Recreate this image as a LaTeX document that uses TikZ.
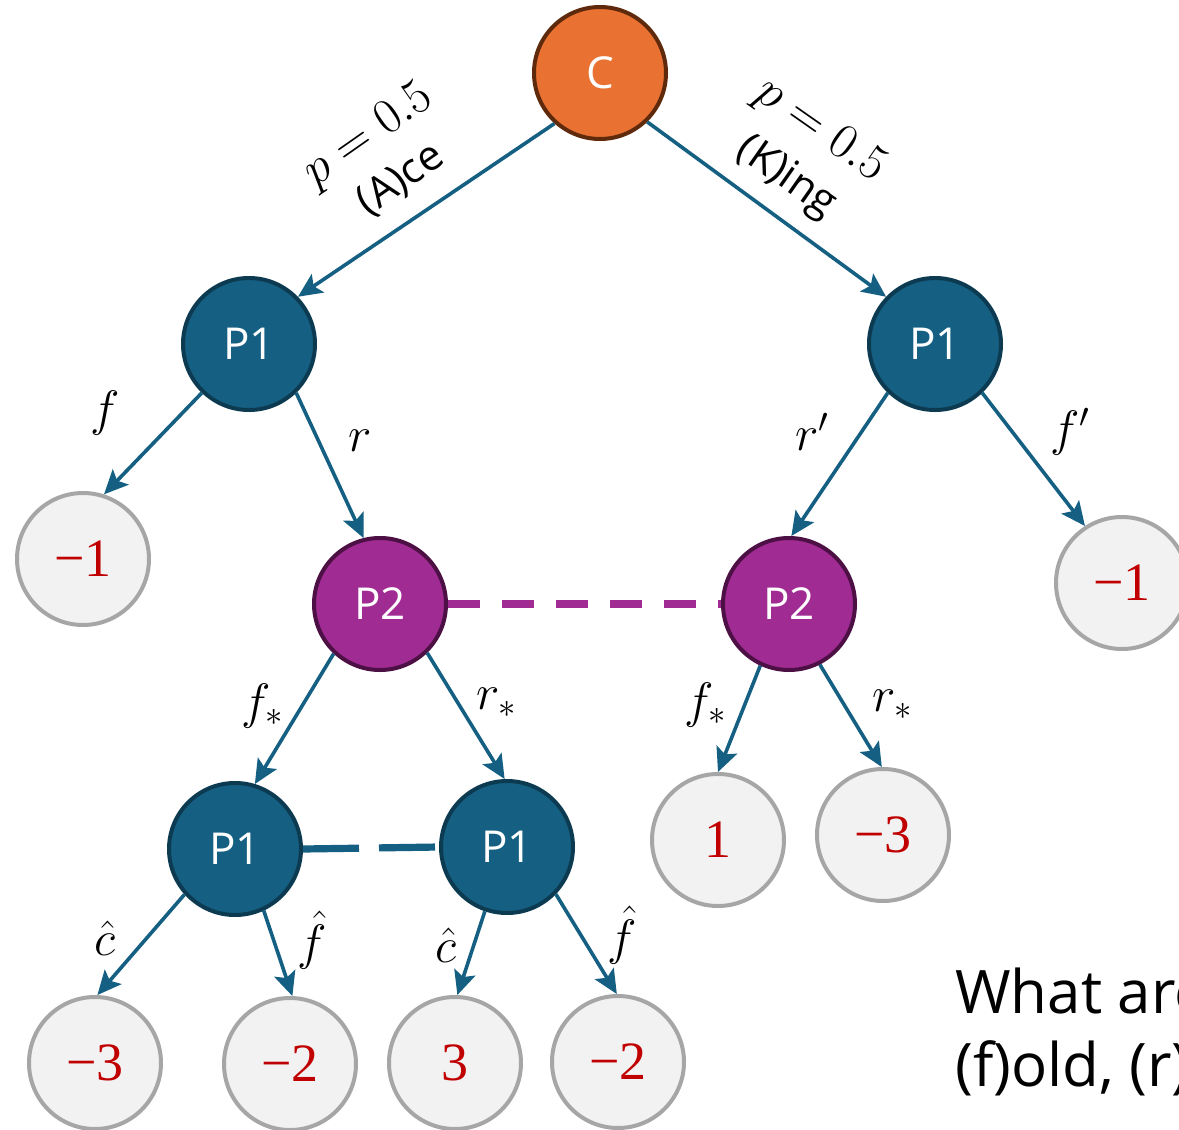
\documentclass[tikz,border=0pt]{standalone}
\usepackage[no-math]{fontspec}
\newfontfamily\labelfont{Open Sans}
\newfontfamily\numfont{Liberation Serif}
\usetikzlibrary{arrows.meta}
\definecolor{chanceFill}{HTML}{E97132}
\definecolor{chanceLine}{HTML}{5E2A0B}
\definecolor{pOneFill}{HTML}{156082}
\definecolor{pOneLine}{HTML}{0C3A50}
\definecolor{pTwoFill}{HTML}{A02B93}
\definecolor{pTwoLine}{HTML}{4C1045}
\definecolor{leafFill}{HTML}{F2F2F2}
\definecolor{leafLine}{HTML}{A6A6A6}
\definecolor{payoff}{HTML}{C00000}
\definecolor{edgeBlue}{HTML}{156082}
\begin{document}
\begin{tikzpicture}[x=0.5pt,y=-0.5pt,
  state/.style={circle, minimum size=66pt, inner sep=0pt, line width=2pt,
    font=\labelfont\fontsize{22}{26}\selectfont, text=white},
  chance/.style={state, fill=chanceFill, draw=chanceLine},
  pone/.style={state, fill=pOneFill, draw=pOneLine},
  ptwo/.style={state, fill=pTwoFill, draw=pTwoLine},
  leaf/.style={state, fill=leafFill, draw=leafLine, text=payoff,
    font=\numfont\fontsize{27}{30}\selectfont},
  move/.style={draw=edgeBlue, line width=1.8pt,
    -{Stealth[length=12pt,width=11pt,inset=2.5pt]}},
  act/.style={font=\fontsize{25}{28}\selectfont, inner sep=0pt},
  prob/.style={font=\fontsize{25}{28}\selectfont, inner sep=0pt},
  card/.style={font=\labelfont\fontsize{21}{24}\selectfont, inner sep=0pt},
  infoset/.style={line width=3.6pt, dash pattern=on 16pt off 11pt},
  question/.style={font=\labelfont\fontsize{30}{34}\selectfont, anchor=base west, inner sep=0pt}
]
\useasboundingbox (0,0) rectangle (1179,1130);
\clip (0,0) rectangle (1179,1130);

% decision nodes
\node[chance] (C)  at (600,73)  {C};
\node[pone]   (A1) at (249,344) {P1};
\node[pone]   (K1) at (935,344) {P1};
\node[ptwo]   (A2) at (380,604) {P2};
\node[ptwo]   (K2) at (789,604) {P2};
\node[pone]   (B1) at (235,849) {P1};
\node[pone]   (B2) at (507,847) {P1};

% terminal payoffs
\node[leaf] (L1) at (83,559)   {−1};
\node[leaf] (R1) at (1122,583) {−1};
\node[leaf] (T1) at (718,840)  {1};
\node[leaf] (T2) at (883,835)  {−3};
\node[leaf] (U1) at (95,1063)  {−3};
\node[leaf] (U2) at (290,1064) {−2};
\node[leaf] (U3) at (455,1063) {3};
\node[leaf] (U4) at (618,1062) {−2};

% information sets
\draw[infoset, draw=pTwoFill] (A2.east) -- (K2.west);
\draw[infoset, draw=edgeBlue, dash pattern=on 28pt off 10pt] (B1.east) -- (B2.west);

% chance moves
\draw[move] (C.228) -- (A1.44);
\draw[move] (C.314) -- (K1.136);
\node[prob, rotate=35] (pA) at (369,136) {$p = 0.5$};
\node[card, rotate=35] (cA) at (401,180) {(A)ce};
\node[prob, rotate=-35] (pK) at (820,131) {$p = 0.5$};
\node[card, rotate=-35] (cK) at (786,178) {(K)ing};

% player moves
\draw[move] (A1.226) -- (L1.72);
\draw[move] (A1.314) -- (A2.104);
\draw[move] (K1.226) -- (K2.88);
\draw[move] (K1.314) -- (R1.123);
\draw[move] (A2.227) -- (B1.73);
\draw[move] (A2.314) -- (B2.92);
\draw[move] (K2.245) -- (T1.90);
\draw[move] (K2.297) -- (T2.91);
\draw[move] (B1.222) -- (U1.88);
\draw[move] (B1.295) -- (U2.88);
\draw[move] (B2.251) -- (U3.88);
\draw[move] (B2.316) -- (U4.91);

% action labels
\node[act] (af)  at (105,413)  {$f$};
\node[act] (ar)  at (360,441)  {$r$};
\node[act] (ar2) at (812,432)  {$r'$};
\node[act] (af2) at (1070,432) {$f'$};
\node[act] (afs) at (263,706)  {$f_*$};
\node[act] (ars) at (497,703)  {$r_*$};
\node[act] (afk) at (706,705)  {$f_*$};
\node[act] (ark) at (893,705)  {$r_*$};
\node[act] (ac1) at (105,938)  {$\hat{c}$};
\node[act] (ah1) at (312,940)  {$\hat{f}$};
\node[act] (ac2) at (446,945)  {$\hat{c}$};
\node[act] (ah2) at (622,935)  {$\hat{f}$};

% question text
\node[question] (q1) at (955,1013) {What are};
\node[question] (q2) at (955,1086) {(f)old, (r)};
\end{tikzpicture}
\end{document}
